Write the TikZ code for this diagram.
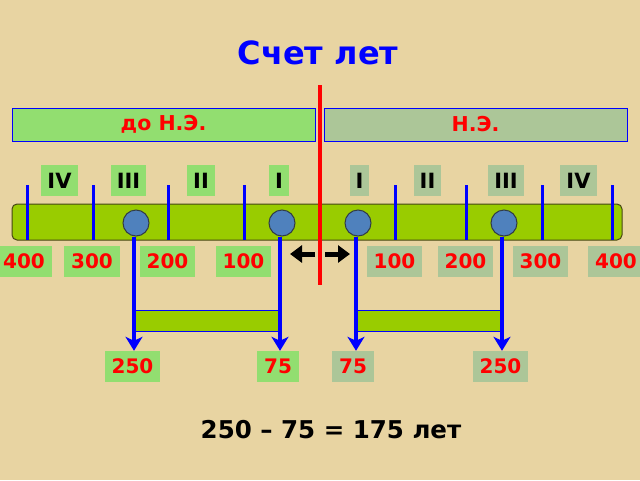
\documentclass[tikz,border=0pt]{standalone}
\usepackage{fontspec}
\setmainfont{DejaVu Sans}
\usetikzlibrary{arrows.meta}
\definecolor{parch}{RGB}{232,212,162}
\definecolor{lgreen}{RGB}{146,222,112}
\definecolor{ggreen}{RGB}{172,198,152}
\definecolor{bargreen}{RGB}{153,204,0}
\definecolor{barborder}{RGB}{70,70,20}
\definecolor{dotblue}{RGB}{79,129,189}
\definecolor{dotborder}{RGB}{50,60,70}
\tikzset{
  era/.style={draw=blue, line width=0.8pt, minimum width=303pt, minimum height=33pt, font=\bfseries\fontsize{20.5}{20.5}\selectfont, text=red, inner sep=0pt},
  roman/.style={inner xsep=6pt, minimum height=31pt, font=\bfseries\fontsize{21}{21}\selectfont, text=black},
  year/.style={inner xsep=7pt, minimum height=31pt, font=\bfseries\fontsize{20}{20}\selectfont, text=red},
  leftfill/.style={fill=lgreen},
  rightfill/.style={fill=ggreen},
  tick/.style={draw=blue, line width=3pt},
  dot/.style={circle, fill=dotblue, draw=dotborder, line width=1pt, minimum size=26pt, inner sep=0pt},
  bluearrow/.style={draw=blue, line width=3.5pt, -{Stealth[length=14pt,width=17pt,inset=4pt]}},
  blackarrow/.style={draw=black, line width=5pt, -{Triangle[length=12pt,width=17pt]}},
  spanbar/.style={fill=bargreen, draw=blue, line width=0.8pt}
}
\begin{document}
\begin{tikzpicture}[x=1pt,y=-1pt]
\useasboundingbox (0,0) rectangle (640,480);
\fill[parch] (0,0) rectangle (640,480);
% title
\node[font=\bfseries\fontsize{32}{32}\selectfont, text=blue] (title) at (318,53) {Счет лет};
% era boxes
\node[era, leftfill] (bc) at (163.5,124.5) {до Н.Э.};
\node[era, rightfill] (ad) at (475.5,124.5) {Н.Э.};
% main bar
\draw[fill=bargreen, draw=barborder, line width=1pt, rounded corners=5pt] (12,204) rectangle (622,240);
% ticks
\foreach \x in {27,93,168,244,395,466,542,612} \draw[tick] (\x,185) -- (\x,240);
% roman numerals
\node[roman, leftfill] (l4) at (59.5,180.5) {IV};
\node[roman, leftfill] (l3) at (128.5,180.5) {III};
\node[roman, leftfill] (l2) at (201,180.5) {II};
\node[roman, leftfill] (l1) at (279,180.5) {I};
\node[roman, rightfill] (r1) at (359.5,180.5) {I};
\node[roman, rightfill] (r2) at (427.5,180.5) {II};
\node[roman, rightfill] (r3) at (506,180.5) {III};
\node[roman, rightfill] (r4) at (578.5,180.5) {IV};
% year labels
\node[year, leftfill] (y4) at (24,261) {400};
\node[year, leftfill] (y3) at (92,261) {300};
\node[year, leftfill] (y2) at (167.5,261) {200};
\node[year, leftfill] (y1) at (243.5,261) {100};
\node[year, rightfill] (z1) at (394.5,261) {100};
\node[year, rightfill] (z2) at (465.5,261) {200};
\node[year, rightfill] (z3) at (540.5,261) {300};
\node[year, rightfill] (z4) at (616,261) {400};
% red divider
\draw[red, line width=4pt] (320,85) -- (320,285);
% small arrows
\coordinate (la0) at (315,254);
\coordinate (la1) at (290,254);
\coordinate (ra0) at (325,254);
\coordinate (ra1) at (350,254);
\draw[blackarrow] (la0) -- (la1);
\draw[blackarrow] (ra0) -- (ra1);
% bottom labels
\node[year, leftfill] (b1) at (132.5,366.5) {250};
\node[year, leftfill] (b2) at (278,366.5) {75};
\node[year, rightfill] (b3) at (353,366.5) {75};
\node[year, rightfill] (b4) at (500.5,366.5) {250};
% span bars
\draw[spanbar] (134,310) rectangle (280,331);
\draw[spanbar] (356,310) rectangle (502,331);
% dots
\node[dot] (c1) at (136,223) {};
\node[dot] (c2) at (282,223) {};
\node[dot] (c3) at (358,223) {};
\node[dot] (c4) at (504,223) {};
% arrows down
\draw[bluearrow] ([xshift=-2pt]c1.south) -- ([xshift=-2pt]c1.south |- b1.north);
\draw[bluearrow] ([xshift=-2pt]c2.south) -- ([xshift=-2pt]c2.south |- b2.north);
\draw[bluearrow] ([xshift=-2pt]c3.south) -- ([xshift=-2pt]c3.south |- b3.north);
\draw[bluearrow] ([xshift=-2pt]c4.south) -- ([xshift=-2pt]c4.south |- b4.north);
% equation
\node[font=\bfseries\fontsize{24.5}{24.5}\selectfont, text=black] (eq) at (331,430) {250 – 75 = 175 лет};
\end{tikzpicture}
\end{document}
